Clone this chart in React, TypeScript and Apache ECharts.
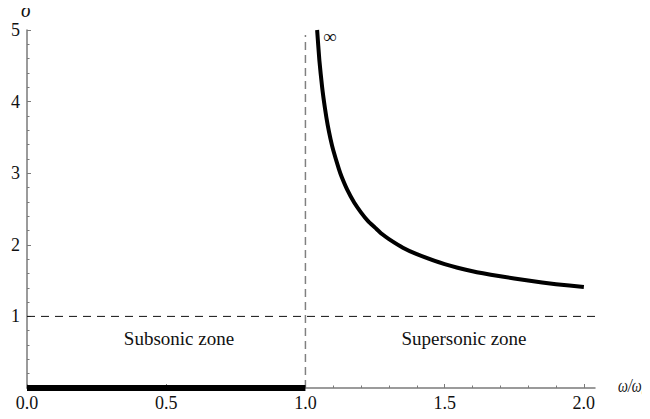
import React, { useEffect, useRef } from "react";
import * as echarts from "echarts";

// ω/ωc values along the curve and σ
const curveX = [1.042, 1.05, 1.06, 1.07, 1.08, 1.09, 1.1, 1.12, 1.13, 1.15, 1.175, 1.2, 1.225, 1.25, 1.275, 1.3, 1.35, 1.4, 1.5, 1.6, 1.7, 1.8, 1.9, 2.0];
const curveY = [5.0, 4.58, 4.2, 3.91, 3.67, 3.48, 3.32, 3.06, 2.95, 2.77, 2.59, 2.45, 2.33, 2.24, 2.15, 2.08, 1.96, 1.87, 1.73, 1.63, 1.56, 1.5, 1.45, 1.41];
const subsonicX = [0, 1.0];
const subsonicY = [0, 0];
const xTicks = [0, 0.5, 1.0, 1.5, 2.0];
const yTicks = [0, 1, 2, 3, 4, 5];
const cutoffX = 1.0;
const unitY = 1.0;

const FONT = "Liberation Serif";

export default function App() {
  const ref = useRef<HTMLDivElement>(null);
  useEffect(() => {
    if (!ref.current) return;
    const chart = echarts.init(ref.current, null, { renderer: "svg" });
    const axisColor = "#7a7a7a";
    const tickRich = { t: { fontFamily: FONT, fontSize: 18, color: "#111" } };
    chart.setOption({
      animation: false,
      textStyle: { fontFamily: FONT },
      grid: { left: 27, right: 55, top: 30, bottom: 31, containLabel: false },
      xAxis: {
        type: "value",
        min: 0,
        max: 2.04,
        interval: 0.5,
        splitLine: { show: false },
        axisLine: { onZero: false, lineStyle: { color: axisColor, width: 1.5 } },
        axisTick: { inside: true, length: 4, customValues: xTicks, lineStyle: { color: axisColor } },
        minorTick: { show: true, splitNumber: 5, length: 2.5, lineStyle: { color: axisColor } },
        axisLabel: {
          customValues: xTicks,
          formatter: (v: number) => `{t|${v.toFixed(1)}}`,
          rich: tickRich,
          fontFamily: FONT,
          fontSize: 18,
          margin: 6,
        },
      },
      yAxis: {
        type: "value",
        min: 0,
        max: 5,
        interval: 1,
        splitLine: { show: false },
        axisLine: { show: true, onZero: false, lineStyle: { color: axisColor, width: 1.5 } },
        axisTick: { show: true, inside: true, length: 4, lineStyle: { color: axisColor } },
        minorTick: { show: true, splitNumber: 5, length: 2.5, lineStyle: { color: axisColor } },
        axisLabel: {
          formatter: (v: number) => (yTicks.includes(v) && v !== 0 ? `{t|${v}}` : ""),
          rich: tickRich,
          fontFamily: FONT,
          fontSize: 18,
          margin: 7,
        },
      },
      series: [
        {
          type: "line",
          data: [[0, unitY], [2.04, unitY]],
          symbol: "none",
          lineStyle: { color: "#111", width: 1, type: [8, 6] },
          silent: true,
        },
        {
          type: "line",
          data: [[cutoffX, 0], [cutoffX, 4.93]],
          symbol: "none",
          lineStyle: { color: "#808080", width: 1.5, type: [8, 5] },
          silent: true,
        },
        {
          type: "line",
          data: subsonicX.map((x, i) => [x, subsonicY[i]]),
          symbol: "none",
          clip: false,
          lineStyle: { color: "#000", width: 6, cap: "butt" },
          silent: true,
        },
        {
          type: "line",
          data: curveX.map((x, i) => [x, curveY[i]]),
          symbol: "none",
          smooth: 0.2,
          clip: false,
          lineStyle: { color: "#000", width: 4, join: "round" },
          silent: true,
        },
      ],
      graphic: [
        { type: "text", x: 21, y: 0, style: { text: "σ", fontFamily: FONT, fontStyle: "italic", fontSize: 20, fill: "#111" } },
        { type: "text", x: 323, y: 27, style: { text: "∞", fontFamily: FONT, fontSize: 19, fill: "#111" } },
        {
          type: "text",
          x: 179,
          y: 338,
          style: { text: "Subsonic zone", fontFamily: FONT, fontSize: 19, fill: "#111", align: "center", verticalAlign: "middle" },
        },
        {
          type: "text",
          x: 464,
          y: 338,
          style: { text: "Supersonic zone", fontFamily: FONT, fontSize: 19, fill: "#111", align: "center", verticalAlign: "middle" },
        },
        {
          type: "text",
          x: 618,
          y: 377,
          scaleX: 0.78,
          style: {
            text: "{a|ω/ω}{b|c}",
            rich: {
              a: { fontFamily: FONT, fontStyle: "italic", fontSize: 18, fill: "#111", verticalAlign: "bottom" },
              b: { fontFamily: FONT, fontStyle: "italic", fontSize: 13, fill: "#111", verticalAlign: "bottom", padding: [0, 0, -3, 0] },
            },
          },
        },
      ],
    });
    return () => chart.dispose();
  }, []);
  return <div ref={ref} style={{ width: 650, height: 419, margin: -8 }} />;
}
